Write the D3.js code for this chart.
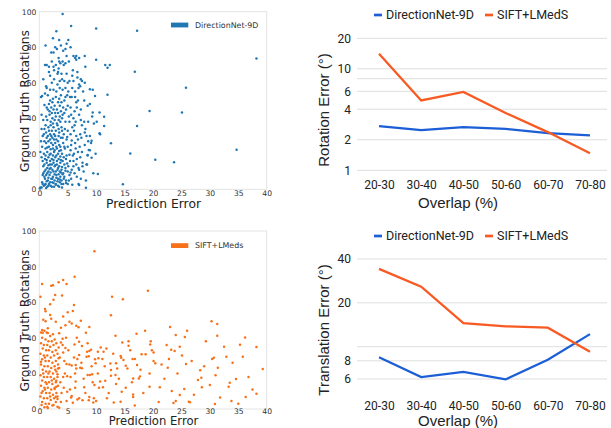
<!DOCTYPE html>
<html><head><meta charset="utf-8">
<script src="https://cdn.jsdelivr.net/npm/d3@7"></script>
<style>body{margin:0;background:#fff}svg{display:block}</style>
</head><body>
<svg id="c" width="611" height="428"></svg>
<script>
// ---------- DATA ----------
const scatterXTicks = [0,5,10,15,20,25,30,35,40];
const scatterYTicks = [0,20,40,60,80,100];
const dirNetPoints = [
[4.1,98.7],[5.6,91.9],[10.0,90.6],[17.2,89.3],[38.2,73.7],[10.0,73.0],[11.6,70.0],[12.0,68.5],[12.4,70.0],[16.8,66.2],
[25.8,57.2],[12.0,53.2],[19.4,44.1],[25.1,43.3],[17.2,35.6],[12.6,25.9],[16.0,20.1],[34.7,22.3],[20.4,16.7],[23.7,15.2],
[14.7,2.8],[10.3,8.6],[8.2,0.9],[7.0,2.4],[9.4,43.2],[10.6,43.2],[11.4,40.9],[11.4,35.6],[10.6,31.5],[10.7,31],
[9.8,52.5],[8.9,56.3],[10.1,38.1],[8.5,19.3],[9.2,17.8],[8.3,14.0],[8.7,22.1],[9.2,27.4],
[3.0,89],[2.4,85],[3.5,84],[5.1,84],[4.8,82],[1.1,81],[3.8,81],[5.5,80],[2.1,77],[2.5,77],[4.2,78],[4.6,79],[6.0,75],[6.5,75],[3.1,79],[2.8,80],
[6.3,74],[7.0,74],[8.0,75],[6.5,73],[4.8,75],[3.4,74],[3.5,72],[4.1,72],[5.2,72],[1.0,70],[1.3,70],[1.7,69],[2.5,69],[2.9,70],[3.7,71],[4.6,71],[8.1,69],[4.3,70],[5.9,67],[3.3,66],[4.8,65],[2.6,67],[6.7,66],
[0.7,62],[1.9,64],[3.2,65],[4.0,62],[4.4,61],[3.6,61],[5.3,61],[7.3,62],[7.5,61],[7.0,59],[8.0,60],[7.2,58],[6.9,57],[5.8,57],[3.2,59],[2.2,60],[1.3,57],[1.0,54],[0.3,52],[1.5,53],[2.5,56],[4.1,56],[4.6,57],[5.1,55],[6.3,55],[5.4,52],[4.9,53],[3.8,53],[2.9,52],[5.7,52],[6.3,52],
[0.5,52.5],[1.9,50],[2.3,49],[3.3,49],[4.4,50],[3.9,49],[5.0,47],[6.8,50],[7.9,50],[6.5,49],[8.5,47],[2.1,46],[1.5,45],[1.3,46],[2.5,45],[3.1,45],[4.7,45],[5.5,46],[6.2,44],[7.3,45],[3.8,44],[2.8,43],[4.4,43],[3.3,43],[9.3,41],[4.1,42],[5.2,41],
[0.4,42],[1.2,41],[1.8,42],[2.3,40],[0.7,39],[2.0,38],[2.7,39],[3.4,39],[4.0,40],[4.6,38],[5.3,38],[6.0,40],[7.3,39],[7.9,38],[8.6,38],[6.2,36],[7.5,36],[5.8,35],[0.4,34],[0.9,34],[1.6,35],[2.0,36],[2.5,35],[3.2,36],[3.9,35],[4.5,34],[5.0,33],[1.2,32],[1.9,31],[2.6,31],[3.5,32],[4.3,31],[5.5,31],[6.5,30],[7.2,31],[8.3,30],[8.0,32],[8.9,30],[0.6,30],[1.3,29],[2.3,29],[3.0,28],[3.8,29],[4.8,28],[6.8,28],[7.4,29],
[0.3,27],[0.9,27],[1.6,27],[2.1,26],[2.8,26],[3.5,25],[4.2,26],[5.0,24],[6.3,26],[7.1,24],[8.6,27],[9.1,26],[0.5,24],[1.1,23],[1.7,24],[2.4,23],[3.1,23],[3.8,22],[4.5,23],[5.5,22],[6.1,20],[7.5,21],[8.9,22],[0.2,21],[0.8,20],[1.4,21],[2.0,20],[2.6,21],[3.3,20],[4.0,20],[4.8,19],[5.9,19],[6.8,21],[7.2,18],[8.5,19],
[0.4,18],[1.0,17],[1.6,18],[2.2,17],[2.8,18],[3.4,17],[4.1,16],[4.7,17],[5.4,16],[6.0,16],[1.3,15],[1.9,14],[2.5,15],[3.1,14],[3.7,15],[4.4,14],[5.1,13],[6.5,14],[7.6,15],[8.4,14],[0.7,13],[1.4,12],[2.0,12],[2.7,13],[3.3,12],[3.9,11],[4.6,12],[5.7,11],[6.9,12],[0.9,10],[1.6,10],[2.3,11],[2.9,10],[3.6,10],[4.2,9],[5.0,10],[6.2,9],
[0.6,8],[1.2,8],[1.8,8],[2.4,7],[3.0,8],[3.7,7],[4.4,7],[5.3,8],[6.6,7],[1.0,6],[1.5,5],[2.1,6],[2.7,5],[3.3,6],[3.9,5],[4.7,5],[0.5,4],[1.1,3],[1.7,3],[2.3,4],[2.9,3],[3.6,4],[4.2,3],[0.8,2],[1.4,1.5],[2.0,2],[2.6,1.5],[3.3,2],[4.0,1],[0.2,1],[0.1,0.5],
[1.8,44],[2.2,43],[2.9,41],[3.6,41],[1.4,39],[2.4,37],[3.1,37],[3.7,38],[1.1,36],[1.7,33],[2.2,33],[2.9,33],[3.4,34],[4.0,33],[0.8,31],[1.5,30],[2.1,30],[2.8,30],[3.4,30],[4.1,29],[1.9,28],[2.6,28],[3.3,27],[1.2,26],[2.4,25],[3.0,24],[3.7,24],[4.4,24],[1.4,23.5],[2.0,22.5],[2.7,22],[3.5,21.5],[1.1,19],[1.8,19.5],[2.4,19],[3.0,19],[3.7,18.5],[4.3,18],
[0.6,16],[1.3,16.5],[1.9,16],[2.5,16.5],[3.1,16],[3.8,16.5],[0.9,14],[1.6,13.5],[2.2,14],[2.8,13.5],[3.5,13],[4.0,12.5],[1.1,11],[1.8,11.5],[2.5,10],[3.2,11],[3.8,9.5],[0.7,9],[1.4,9],[2.0,9.5],[2.7,8.5],[3.4,8.5],[4.1,8.5],[0.9,7],[1.6,6.5],[2.3,6],[3.0,6.5],[3.6,5.5],[4.3,6],[1.3,4.5],[1.9,4],[2.5,3.5],[3.2,4.5],[3.9,3],[0.6,3],[1.0,2.5],[1.6,2],[2.2,1.5],[2.9,2.5],[3.5,1.5],[0.4,1],[1.2,0.8],
[4.7,3.5],[5.2,5],[5.6,6],[5.0,3],[4.6,10.5],[5.5,9.5],[4.9,14.5],[5.3,19.5],[5.6,25],[4.9,29.5],[5.7,27.5],[6.4,23],[6.6,17],[7.0,11],[6.0,13],[7.3,6],[5.8,2.5],[6.9,3],[7.8,10],[8.2,5],
[1.7,48],[2.7,47],[3.6,47],[4.2,46],[0.9,47.5],[2.4,51],[3.5,51],[4.6,52],[1.2,58],[1.9,56],[3.0,55],[3.6,57],[2.6,62],[3.9,65],[1.7,66],[3.4,68],[2.2,72],
[5.8,64],[6.7,63],[5.0,60],[6.0,61],[8.9,48],[9.4,56],[7.7,55],[6.6,46],[7.0,42],[8.1,34],[9.6,37],[5.6,42],[6.1,33],[9.9,20],[8.0,25],[7.6,13],[9.5,9],[6.4,38]
];
const siftPoints = [
[9.7,88.6],[19.1,66.5],[14.7,61.6],[12.8,63.1],[12.6,52.6],[30.3,49.3],[31.3,47.8],[6.2,74.3],[4.2,72.5],[3.4,71.2],[4.8,70.2],[0.5,70.2],[2.1,69.3],[2.4,69.5],
[0.2,63.1],[2.8,64],[4.0,63.7],[2.5,61.4],[1.9,58.8],[1.0,56.2],[1.1,54.9],[6.1,58.4],[5.9,55],[5.0,54.3],[4.2,51.9],[1.9,52.8],[2.1,50.7],[0.7,50.2],[1.1,49.3],[2.9,49],[5.3,49],[7.3,49.6],[6.5,46.8],[6.9,45.9],[5.7,48.1],[4.6,47],[3.8,45.7],[8.8,46],[8.2,42.9],[3.5,42.5],[1.5,45.3],[0.5,44.4],[0.6,42.9],[1.5,42.7],
[13.4,41.2],[17.1,42.3],[24.0,41.6],[25.6,40.4],[31.3,41.2],[36.2,40.1],[35.3,36.1],[38.2,34.8],[30.7,28.8],[32.9,29.4],[35.8,29.4],[39.3,22.5],[38.2,8.6],[36.3,6.7],[34.6,16.9],[33.5,14.8],[33.3,12.5],[33.8,4.5],[31.8,6.4],[30.9,2.8],[30.0,13.5],[30.4,28.1],[31.4,23.2],
[28.3,21.7],[28.5,17.6],[27.9,16.3],[28.6,12.2],[26.3,4.1],[26.5,3.8],[25.8,25.3],[25.1,30.0],[24.7,35],[23.8,32.6],[22.4,36.0],[23.2,33.3],[22.8,28.1],[22.6,23.2],[23.3,10.1],[23.6,3.4],[24.0,4.5],[24.7,7.9],[25.5,11.2],[21.2,12.2],[19.4,12.5],[19.4,20.0],[20.4,25.7],[20.1,31.8],[20.1,27.0],[19.5,36.3],[19.6,38.0],[18.7,30.7],[18.0,30.7],[16.8,28.1],[16.4,28.1],[17.2,24.7],[17.5,17.2],[17.7,18.2],[16.5,17.2],[16.3,15.0],[16.5,8.2],[16.5,6.7],
[15.2,24.3],[15.5,22.7],[14.8,27.5],[14.4,28.8],[14.3,29.8],[15.7,38.0],[15.7,35.6],[14.6,37.3],[14.3,4.1],[14.5,9.7],[13.5,14.0],[13.4,19.1],[12.6,18.7],[12.6,21.9],[12.5,25.5],[13.5,25.7],[13.7,22.8],[13.1,3.7],[11.9,6.0],[11.6,15.9],[11.2,12.2],[10.5,12.0],[10.7,15.4],[10.4,28.5],[11.1,28.1],[11.3,32.2],[10.8,34.5],[10.3,32.2],[9.8,27.9],[9.9,25.7],[9.7,13.5],[9.4,15.0],[8.9,19.1],[9.3,19.5],[8.5,19.1],
[8.7,29.6],[8.8,32.6],[8.4,32.2],[9.1,33.3],[8.3,29.4],[7.9,12.2],[8.8,6.7],[8.7,4.9],[10.0,4.5],[9.5,3.7],[7.6,4.9],[6.7,5.4],[7.0,6.0],[5.7,7.3],[5.6,6.4],[4.8,4.5],[4.9,9.7],[6.3,12.0],[6.4,15.4],[7.2,23.2],[7.5,22.9],[6.5,22.8],[6.4,24.7],[7.0,30.3],[6.7,28.1],[7.0,37.8],[7.5,35.4],[6.2,36.3],[5.7,24.5],[4.8,25.3],[4.9,18.4],[4.2,18.0],[4.2,31.8],[4.6,34.3],[4.1,39.5],[3.8,37.3],[3.4,34.6],[3.4,28.5],[3.3,22.8],[3.2,19.5],[3.0,15.9],[3.0,12.5],[2.7,11.2],[2.9,6.9],[3.2,5.6],[3.2,1.3],[3.5,0.7],[2.5,2.2],[1.4,1.3],[0.4,2.2],
[0.3,43],[0.9,44],[1.3,43],[1.9,41],[2.4,42],[0.5,40],[1.1,39],[1.6,38],[2.2,38],[2.7,39],[0.3,37],[0.8,36],[1.4,36],[1.9,35],[2.5,36],[3.0,37],[0.6,34],[1.2,33],[1.7,33],[2.3,32],[2.9,33],[0.2,31],[0.8,30],[1.4,30],[2.0,29],[2.6,30],[3.2,31],[0.5,28],[1.1,27],[1.7,27],[2.3,26],[2.9,27],[0.3,25],[0.9,24],[1.5,24],[2.1,23],[2.7,24],[3.3,25],[0.6,22],[1.2,21],[1.8,21],[2.4,20],[3.0,21],[0.2,19],[0.8,18],[1.4,18],[2.0,18],[2.6,17],[3.2,18],[0.5,16],[1.1,15],[1.7,15],[2.3,14],[2.9,15],[0.3,13],[0.9,12],[1.5,12],[2.1,11],[2.7,12],[3.3,13],[0.6,10],[1.2,9],[1.8,9],[2.4,8],[3.0,9],[0.2,7],[0.8,6],[1.4,6],[2.0,5],[2.6,6],[3.2,7],[0.5,4],[1.1,3],[1.7,3],[2.3,2],[2.9,4],[0.9,1],[1.5,0.5],
[0.3,26.5],[1.0,29],[1.3,14],[0.7,20],[1.6,20],[2.2,16],[1.9,7],[1.0,11],[0.4,9],[2.8,22],[3.5,23],[3.7,15],[3.6,29],[3.9,9],[3.8,4],[4.3,12],[4.5,20],[4.4,27],[4.1,36],[4.7,40],[5.1,33],[5.3,25],[5.5,18],[5.4,11],[5.9,3.5],[6.1,29],[6.3,20],[6.6,40],[7.4,26],[7.8,17],[8.1,9],[8.5,37],[9.2,24],[9.6,6],[10.3,20],[11.8,34],[11.5,24],[12.2,9],[13.0,31],[14.0,17],[15.2,12],[16.0,33],[17.8,22],[18.3,9],[19.8,33],[21.5,25],[22.0,17],[24.3,20],[26.8,27],[27.2,8],[29.0,24],[31.0,19],[32.5,35],[34.0,26],[36.8,18],[37.5,11],[35.0,3],[29.3,38],[26.0,44],[21.0,4],[18.6,44],[16.8,2],[23.0,46]
];

const overlapCats = ["20-30","30-40","40-50","50-60","60-70","70-80"];
const seriesNames = ["DirectionNet-9D","SIFT+LMedS"];
const rotDirNet = [2.72,2.49,2.66,2.56,2.33,2.21];
const rotSift   = [14.1,4.88,5.92,3.67,2.38,1.47];
const transDirNet = [8.46,6.18,6.72,5.96,8.14,12.2];
const transSift   = [34.2,25.8,14.5,13.8,13.5,9.24];
const rotGrid = [1,2,4,6,8,10,20];
const rotLabels = [1,2,4,6,10,20];
const transGrid = [6,8,10,20,40];
const transLabels = [6,8,20,40];

// ---------- DRAW ----------
const svg = d3.select("#c");
const blue = "#1f77b4", orange = "#f7711a";
const lineBlue = "#1b5ed6", lineOrange = "#f85a24";

function scatter(pts, color, yTop, yBot, legend, legY, titleYc, titleDy, tickPad, titleSize) {
  const x = d3.scaleLinear().domain([0,40]).range([39.3,266.7]);
  const y = d3.scaleLinear().domain([0,100]).range([yBot,yTop]);
  const g = svg.append("g");
  g.append("rect").attr("x",x(0)).attr("y",y(100)).attr("width",x(40)-x(0)).attr("height",y(0)-y(100))
    .attr("fill","none").attr("stroke","#e4e4e4").attr("stroke-width",1);
  g.selectAll("circle").data(pts).join("circle")
    .attr("cx",d=>x(d[0])).attr("cy",d=>y(d[1])).attr("r",1.25).attr("fill",color);
  const xa = d3.axisBottom(x).tickValues(scatterXTicks).tickSize(0).tickPadding(tickPad);
  const ga = g.append("g").attr("transform",`translate(0,${yBot})`).call(xa);
  ga.select(".domain").remove();
  ga.selectAll("text").attr("font-family","DejaVu Sans").attr("font-size",7.6).attr("fill","#333");
  const ya = d3.axisLeft(y).tickValues(scatterYTicks).tickSize(0).tickPadding(3);
  const gy = g.append("g").attr("transform",`translate(${x(0)},0)`).call(ya);
  gy.select(".domain").remove();
  gy.selectAll("text").attr("font-family","DejaVu Sans").attr("font-size",7.6).attr("fill","#333");
  g.append("text").attr("x",153.5).attr("y",yBot+titleDy).attr("text-anchor","middle")
    .attr("font-family","DejaVu Sans").attr("font-size",titleSize).attr("fill","#222").text("Prediction Error");
  g.append("text").attr("transform",`translate(28.5,${titleYc}) rotate(-90)`).attr("text-anchor","middle")
    .attr("font-family","DejaVu Sans").attr("font-size",12.3).attr("fill","#222").text("Ground Truth Rotations");
  g.append("rect").attr("x",171).attr("y",legY-2.4).attr("width",17.3).attr("height",4.8).attr("fill",color);
  g.append("text").attr("x",195).attr("y",legY+2.8).attr("font-family","DejaVu Sans").attr("font-size",7.9)
    .attr("fill","#333").text(legend);
}
scatter(dirNetPoints, blue, 11.7, 189.3, "DirectionNet-9D", 25, 101, 18.8, 1.5, 12.3);
scatter(siftPoints, orange, 231, 409, "SIFT+LMeds", 245.6, 320.5, 16.2, 0, 11.6);

function lineChart(a, b, domain, rangeY, grid, labels, legY, labY, titleY, titleYc, ytitle) {
  const x = d3.scalePoint().domain(overlapCats).range([379,590]);
  const y = d3.scaleLog().domain(domain).range(rangeY);
  const g = svg.append("g");
  g.selectAll("line.grid").data(grid).join("line").attr("class","grid")
    .attr("x1",357).attr("x2",607).attr("y1",d=>y(d)).attr("y2",d=>y(d))
    .attr("stroke","#dedede").attr("stroke-width",1);
  const ya = d3.axisLeft(y).tickValues(labels).tickFormat(d3.format("d")).tickSize(0).tickPadding(0);
  const gy = g.append("g").attr("transform","translate(351,0)").call(ya);
  gy.select(".domain").remove();
  gy.selectAll("text").attr("font-family","Roboto").attr("font-size",12).attr("fill","#222");
  const xa = d3.axisBottom(x).tickSize(0).tickPadding(0);
  const gx = g.append("g").attr("transform",`translate(0,${labY-9})`).call(xa);
  gx.select(".domain").remove();
  gx.selectAll("text").attr("font-family","Roboto").attr("font-size",12).attr("fill","#222").attr("dy","0.71em");
  const ln = d3.line().x((d,i)=>x(overlapCats[i])).y(d=>y(d));
  g.append("path").datum(a).attr("d",ln).attr("fill","none").attr("stroke",lineBlue).attr("stroke-width",2.3);
  g.append("path").datum(b).attr("d",ln).attr("fill","none").attr("stroke",lineOrange).attr("stroke-width",2.3);
  const leg = [[374,386,lineBlue,seriesNames[0]],[485,497,lineOrange,seriesNames[1]]];
  leg.forEach(l=>{
    g.append("line").attr("x1",l[0]).attr("x2",l[0]+8).attr("y1",legY).attr("y2",legY)
      .attr("stroke",l[2]).attr("stroke-width",2.7);
    g.append("text").attr("x",l[1]).attr("y",legY+4.3).attr("font-family","Roboto").attr("font-size",12.5)
      .attr("fill","#222").text(l[3]);
  });
  g.append("text").attr("x",458).attr("y",titleY).attr("text-anchor","middle")
    .attr("font-family","Liberation Sans").attr("font-size",15).attr("fill","#222").text("Overlap (%)");
  g.append("text").attr("transform",`translate(329,${titleYc}) rotate(-90)`).attr("text-anchor","middle")
    .attr("font-family","Liberation Sans").attr("font-size",15).attr("fill","#222").text(ytitle);
}
lineChart(rotDirNet, rotSift, [1,20], [170.3,38.3], rotGrid, rotLabels, 15, 189.3, 207.5, 110, "Rotation Error (°)");
lineChart(transDirNet, transSift, [6,40], [379,259], transGrid, transLabels, 236, 410, 425.5, 330, "Translation Error (°)");
</script>
</body></html>
